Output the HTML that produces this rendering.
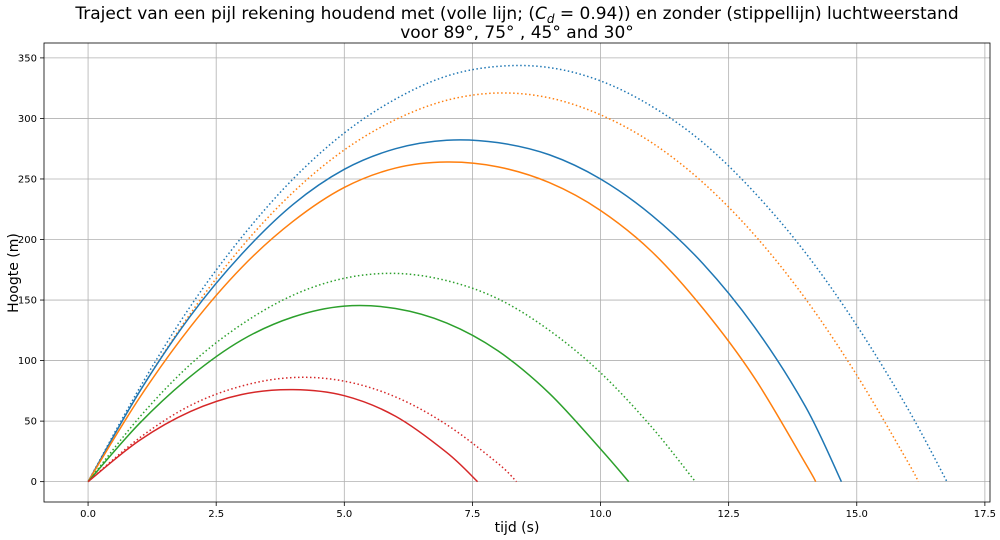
<!DOCTYPE html>
<html><head><meta charset="utf-8"><style>
body{margin:0;background:#fff;}
svg{display:block;font-family:"DejaVu Sans","Liberation Sans",sans-serif;}
</style></head><body>
<svg id="chart" width="1000" height="540">
<text x="517" y="19" text-anchor="middle" font-size="17" fill="#000">Traject van een pijl rekening houdend met (volle lijn; (<tspan font-style="italic">C</tspan><tspan font-style="italic" font-size="12" dy="4">d</tspan><tspan dy="-4"> = 0.94)) en zonder (stippellijn) luchtweerstand</tspan></text>
<text x="517" y="38" text-anchor="middle" font-size="17" fill="#000">voor 89°, 75° , 45° and 30°</text>
<g id="grid"></g><g id="lines"></g><g id="axes"></g>
<text x="517" y="532" text-anchor="middle" font-size="14">tijd (s)</text>
<text x="18" y="273" text-anchor="middle" font-size="14" transform="rotate(-90 18 273)">Hoogte (m)</text>
</svg>
<script>
const xTicks=[0,2.5,5,7.5,10,12.5,15,17.5];
const xTickLabels=["0.0","2.5","5.0","7.5","10.0","12.5","15.0","17.5"];
const yTicks=[0,50,100,150,200,250,300,350];
const yTickLabels=["0","50","100","150","200","250","300","350"];
const blueDotT=[0,1,2,3,4,5,6,7,8,9,10,11,12,13,14,15,16,16.76];
const blueDotH=[0,77,145,202,250,288,316,335,343,342,331,310,280,239,189,129,60,0];
const orangeDotT=[0,1,2,3,4,5,6,7,8,9,10,11,12,13,14,15,16,16.2];
const orangeDotH=[0,74,139,194,239,274,299,315,321,317,303,280,247,204,151,88,16,0];
const greenDotT=[0,1,2,3,4,5,6,7,8,9,10,11,11.85];
const greenDotH=[0,53,97,130,154,168,172,166,151,125,90,45,0];
const redDotT=[0,1,2,3,4,5,6,7,8,8.36];
const redDotH=[0,36,63,79,86,83,70,47,15,0];
const blueT=[0,1,2,3,4,5,6,7,8,9,10,11,12,13,14,14.7];
const blueH=[0,74,137,188,229,258,275,282,280,270,250,220,180,128,62,0];
const orangeT=[0,1,2,3,4,5,6,7,8,9,10,11,12,13,14,14.2];
const orangeH=[0,69,128,177,215,243,259,264,260,247,224,190,143,86,15,0];
const greenT=[0,1,2,3,4,5,6,7,8,9,10,10.55];
const greenH=[0,48,87,117,136,145,143,131,108,73,27,0];
const redT=[0,1,2,3,4,5,6,7,7.6];
const redH=[0,34,58,72,76,71,54,24,0];

const L=44,R=990,T=43,B=502;
const xmin=-0.86,xmax=17.6,ymin=-16.8,ymax=362.3;
const sx=v=>L+(v-xmin)/(xmax-xmin)*(R-L);
const sy=v=>B-(v-ymin)/(ymax-ymin)*(B-T);
const NS="http://www.w3.org/2000/svg";
function mk(tag,attrs,parent){const e=document.createElementNS(NS,tag);for(const k in attrs)e.setAttribute(k,attrs[k]);parent.appendChild(e);return e;}
const grid=document.getElementById('grid'),axes=document.getElementById('axes'),lines=document.getElementById('lines');
xTicks.forEach((v,i)=>{
 const g=mk('line',{x1:sx(v),x2:sx(v),y1:T,y2:B,stroke:'#b0b0b0','stroke-width':0.8},grid);
 
 
 mk('line',{x1:sx(v),x2:sx(v),y1:B,y2:B+4,stroke:'#000','stroke-width':0.8},axes);
 const t=mk('text',{x:sx(v),y:B+15,'text-anchor':'middle','font-size':10,fill:'#000'},axes);
 t.textContent=xTickLabels[i];
 
 
});
yTicks.forEach((v,i)=>{
 const g=mk('line',{x1:L,x2:R,y1:sy(v),y2:sy(v),stroke:'#b0b0b0','stroke-width':0.8},grid);
 
 
 mk('line',{x1:L-4,x2:L,y1:sy(v),y2:sy(v),stroke:'#000','stroke-width':0.8},axes);
 const t=mk('text',{x:L-7,y:sy(v)+3.5,'text-anchor':'end','font-size':10,fill:'#000'},axes);
 t.textContent=yTickLabels[i];
 
 
});
const frame=mk('rect',{x:L,y:T,width:R-L,height:B-T,fill:'none',stroke:'#000','stroke-width':0.8},axes);


function path(ts,hs){
 const p=ts.map((t,i)=>[sx(t),sy(hs[i])]);
 let d='M'+p[0][0]+','+p[0][1];
 for(let i=0;i<p.length-1;i++){
  const p0=p[Math.max(0,i-1)],p1=p[i],p2=p[i+1],p3=p[Math.min(p.length-1,i+2)];
  const c1=[p1[0]+(p2[0]-p0[0])/6,p1[1]+(p2[1]-p0[1])/6];
  const c2=[p2[0]-(p3[0]-p1[0])/6,p2[1]-(p3[1]-p1[1])/6];
  d+=' C'+c1+' '+c2+' '+p2;
 }
 return d;
}
const series=[
 [blueDotT,blueDotH,'#1f77b4',true,'blue-dotted-89deg'],
 [orangeDotT,orangeDotH,'#ff7f0e',true,'orange-dotted-75deg'],
 [greenDotT,greenDotH,'#2ca02c',true,'green-dotted-45deg'],
 [redDotT,redDotH,'#d62728',true,'red-dotted-30deg'],
 [blueT,blueH,'#1f77b4',false,'blue-solid-89deg'],
 [orangeT,orangeH,'#ff7f0e',false,'orange-solid-75deg'],
 [greenT,greenH,'#2ca02c',false,'green-solid-45deg'],
 [redT,redH,'#d62728',false,'red-solid-30deg']];
series.forEach(s=>{
 const a={d:path(s[0],s[1]),fill:'none',stroke:s[2],'stroke-width':1.5};
 if(s[3]){a['stroke-dasharray']='1.5,2.5';}
 const e=mk('path',a,lines);
 
 
});
</script>
</body></html>
